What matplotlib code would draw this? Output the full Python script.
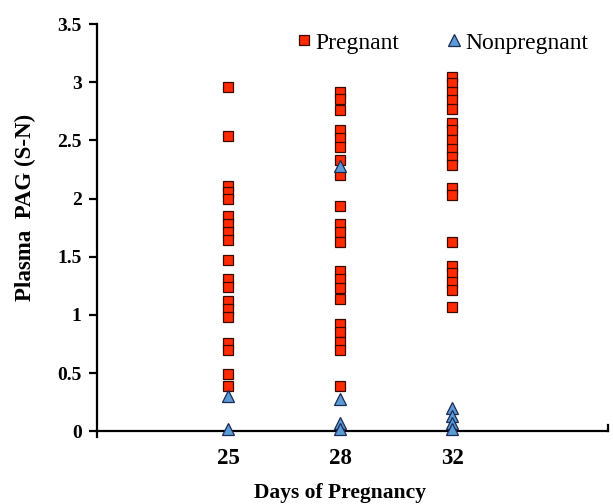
import matplotlib.pyplot as plt
import matplotlib.transforms as mtransforms

# Datos
dias = ["25", "28", "32"]

preg_25 = [2.96, 2.54, 2.11, 2.06, 2.00, 1.85, 1.78, 1.71, 1.64, 1.47, 1.31, 1.24,
           1.12, 1.05, 0.98, 0.76, 0.70, 0.49, 0.39]
preg_28 = [2.92, 2.86, 2.76, 2.59, 2.52, 2.44, 2.33, 2.20, 1.94, 1.78, 1.71, 1.63,
           1.38, 1.31, 1.23, 1.14, 0.92, 0.85, 0.77, 0.70, 0.39]
preg_32 = [3.05, 2.99, 2.92, 2.85, 2.77, 2.65, 2.59, 2.50, 2.43, 2.36, 2.29, 2.09,
           2.03, 1.63, 1.42, 1.36, 1.28, 1.21, 1.07]

nopreg_25 = [0.30, 0.02]
nopreg_28 = [2.28, 0.28, 0.07, 0.02]
nopreg_32 = [0.20, 0.13, 0.07, 0.02]

pregnant = [preg_25, preg_28, preg_32]
nonpregnant = [nopreg_25, nopreg_28, nopreg_32]

fig = plt.figure(figsize=(6.13, 5.04), dpi=100)
ax = fig.add_axes([0.158, 0.133, 0.834, 0.819])

serif = ["Liberation Serif", "DejaVu Serif"]

for i, vals in enumerate(pregnant):
    ax.plot([i + 1] * len(vals), vals, linestyle="none", marker="s", markersize=7.5,
            markerfacecolor="#ff2a00", markeredgecolor="#3a0a00", markeredgewidth=0.9,
            label="Pregnant" if i == 0 else None, zorder=3)
for i, vals in enumerate(nonpregnant):
    ax.plot([i + 1] * len(vals), vals, linestyle="none", marker="^", markersize=8,
            markerfacecolor="#5b9bd5", markeredgecolor="#1a2a55", markeredgewidth=0.9,
            label="Nonpregnant" if i == 0 else None, zorder=4)

ax.set_xlim(-0.17, 4.39)
ax.set_ylim(-0.05, 3.5)

ax.spines["top"].set_visible(False)
ax.spines["right"].set_visible(False)
ax.spines["bottom"].set_position(("data", 0))
ax.spines["left"].set_linewidth(1.6)
ax.spines["bottom"].set_linewidth(1.6)

ax.set_yticks([0, 0.5, 1, 1.5, 2, 2.5, 3, 3.5])
ax.set_yticklabels(["0", "0.5", "1", "1.5", "2", "2.5", "3", "3.5"])
ax.tick_params(axis="y", direction="out", length=6, width=1.6, pad=5)
ax.set_xticks([1, 2, 3])
ax.set_xticklabels(dias)
ax.tick_params(axis="x", length=0, pad=12)

for lbl in ax.get_yticklabels():
    lbl.set_fontfamily(serif)
    lbl.set_fontweight("bold")
    lbl.set_fontsize(14)
for lbl in ax.get_xticklabels():
    lbl.set_fontfamily(serif)
    lbl.set_fontweight("bold")
    lbl.set_fontsize(16.5)

# marca del extremo derecho del eje x
trans = mtransforms.blended_transform_factory(ax.transAxes, ax.transData)
ax.plot([1, 1], [0, 0.05], color="black", linewidth=1.6, transform=trans, clip_on=False)

ax.set_ylabel("Plasma  PAG (S-N)", fontfamily=serif, fontweight="bold", fontsize=16.5)
ax.yaxis.set_label_coords(-0.119, 0.557)
ax.set_xlabel("Days of Pregnancy", fontfamily=serif, fontweight="bold", fontsize=15.5)
ax.xaxis.set_label_coords(0.476, -0.112)

leg = ax.legend(loc="upper right", bbox_to_anchor=(0.99, 1.015), ncol=2, frameon=False,
                prop={"family": serif, "size": 17}, handletextpad=0.1,
                columnspacing=1.9, handlelength=0.8, borderaxespad=0.2)

fig.savefig("out.png", dpi=100)
